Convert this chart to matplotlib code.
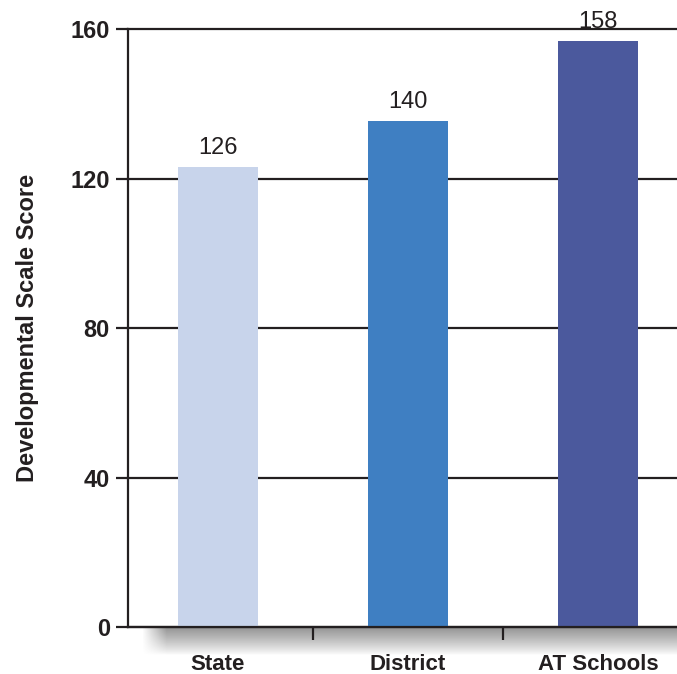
"""Developmental scale score bar chart — State vs District vs AT Schools"""

import matplotlib
matplotlib.use("Agg")
import matplotlib.pyplot as plt
import numpy as np

# Data
categories = ["State", "District", "AT Schools"]
bar_heights = [123.2, 135.4, 156.9]      # bar tops as drawn in the reference
value_labels = ["126", "140", "158"]      # printed values above the bars
y_ticks = [0, 40, 80, 120, 160]
y_label = "Developmental Scale Score"

BAR_COLORS = ["#C8D4EB", "#3F7FC2", "#4B599D"]
DARK_TEXT = "#231F20"
FONT = ["Liberation Sans", "DejaVu Sans"]

plt.rcParams["font.family"] = FONT

fig = plt.figure(figsize=(6.77, 6.74), dpi=100)
ax = fig.add_axes([0.189, 0.0697, 0.811, 0.8868])

x = np.arange(len(categories))
ax.bar(x, bar_heights, width=0.42, color=BAR_COLORS, zorder=3)

for xi, h, lab in zip(x, bar_heights, value_labels):
    ax.text(xi, h + 2.2, lab, ha="center", va="bottom", fontsize=17,
            color=DARK_TEXT, zorder=4)

ax.set_xlim(-0.474, 2.416)
ax.set_ylim(0, 160)

# y axis
ax.set_yticks(y_ticks)
ax.set_yticklabels([str(v) for v in y_ticks], fontsize=17, fontweight="bold", color=DARK_TEXT)
ax.tick_params(axis="y", length=9, width=1.6, color=DARK_TEXT, pad=4)
ax.set_ylabel(y_label, fontsize=17, fontweight="bold", color=DARK_TEXT)
ax.yaxis.set_label_coords(-0.162, 0.5)

# horizontal rules
ax.yaxis.grid(True, color=DARK_TEXT, linewidth=1.6, zorder=1)
for gl in ax.get_ygridlines():
    gl.set_clip_on(False)

# x axis: separator ticks between categories, labels centered under bars
ax.set_xticks([0.5, 1.5])
ax.set_xticklabels(["", ""])
ax.tick_params(axis="x", length=9, width=1.6, color=DARK_TEXT, direction="out")
for xi, cat in zip(x, categories):
    ax.text(xi, -0.062, cat, transform=ax.get_xaxis_transform(), ha="center", va="center",
            fontsize=16, fontweight="bold", color=DARK_TEXT)

for side in ("top", "right"):
    ax.spines[side].set_visible(False)
for side in ("left", "bottom"):
    ax.spines[side].set_color(DARK_TEXT)
    ax.spines[side].set_linewidth(1.6)
    ax.spines[side].set_zorder(5)

# soft drop shadow under the baseline
ny, nx = 80, 600
vert = np.linspace(1, 0, ny) ** 0.85
horiz = np.clip(np.linspace(0, 22, nx), 0, 1)
shade = np.outer(vert, horiz) * 0.7
rgba = np.zeros((ny, nx, 4))
rgba[..., :3] = 0.38
rgba[..., 3] = shade
ax.imshow(rgba, extent=[-0.40, 2.416, -7.5, 0], aspect="auto", clip_on=False,
          zorder=0, interpolation="bilinear")
ax.set_xlim(-0.474, 2.416)
ax.set_ylim(0, 160)

fig.savefig("out.png", dpi=100, facecolor="white")
